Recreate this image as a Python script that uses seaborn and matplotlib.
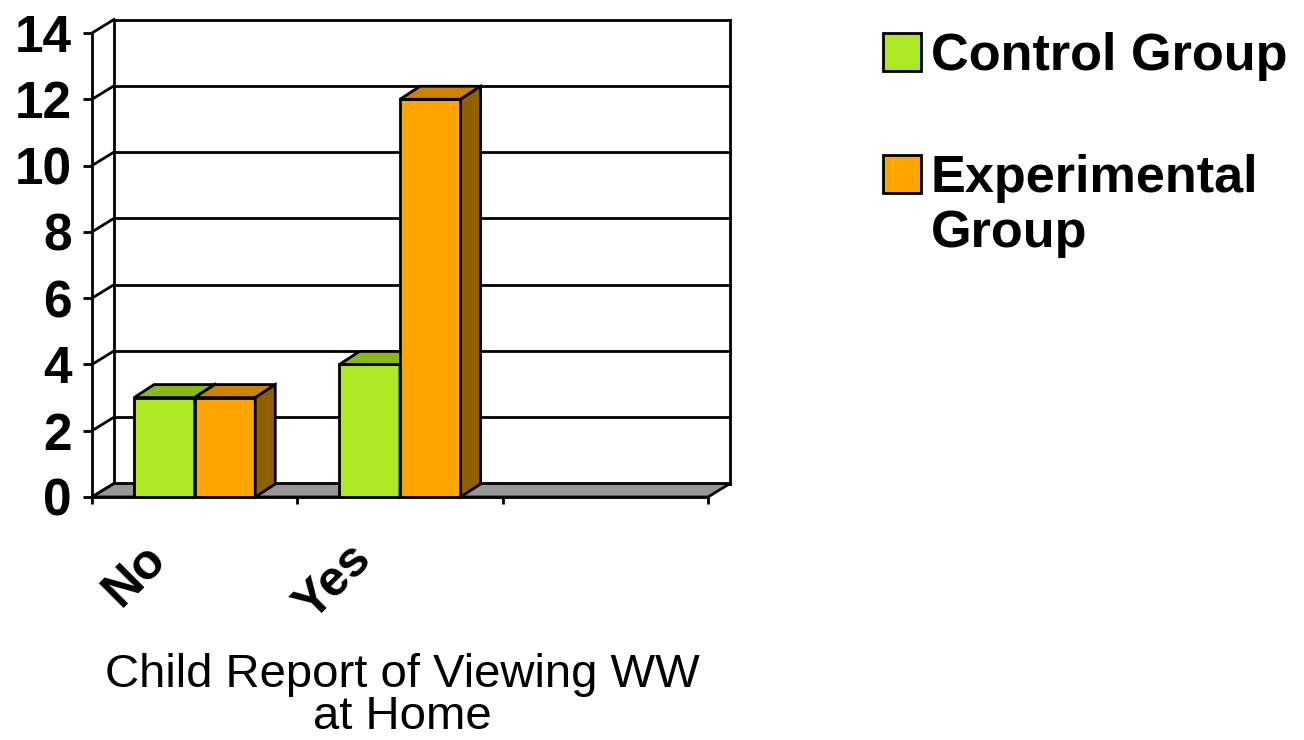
import numpy as np
import pandas as pd
import matplotlib
matplotlib.use("Agg")
import matplotlib.pyplot as plt
import matplotlib.colors as mcolors
from matplotlib.patches import Polygon, Rectangle
import seaborn as sns

# ---- data -------------------------------------------------------------
categories = ["No", "Yes"]
series_names = ["Control Group", "Experimental Group"]
control_values = [3, 4]
experimental_values = [3, 12]
y_tick_values = [0, 2, 4, 6, 8, 10, 12, 14]
axis_title_lines = ["Child Report of Viewing WW", "at Home"]
legend_lines = [["Control Group"], ["Experimental", "Group"]]

# ---- style ------------------------------------------------------------
FRONT = ["#AEE823", "#FFA500"]
TOP = ["#8AB81B", "#CC8400"]
SIDE = ["#5E7D12", "#8F5F00"]
FLOOR = "#969696"
LW = 2.0

W, H, DPI = 1304, 740, 100
AX_L, AX_R, AX_T, AX_B = 92, 708, 33, 497      # front plane of the chart box, pixels
N_SLOTS = 3                                     # category axis keeps one empty slot
WALL_DX, WALL_DY = 22, 13.5                     # depth of the chart box, pixels
BAR_DX, BAR_DY = 20, 13                         # depth of each bar, pixels


def fx(px):
    return px / W


def fy(py):
    return 1 - py / H


sns.set_theme(style="white")
plt.rcParams["font.family"] = ["Liberation Sans", "DejaVu Sans"]
plt.rcParams["text.color"] = "black"
plt.rcParams["xtick.color"] = "black"
plt.rcParams["ytick.color"] = "black"
plt.rcParams["axes.labelcolor"] = "black"

df = pd.DataFrame({
    "category": categories * 2,
    "series": [series_names[0]] * len(categories) + [series_names[1]] * len(categories),
    "value": control_values + experimental_values,
})

fig = plt.figure(figsize=(W / DPI, H / DPI), dpi=DPI)
fig.patch.set_facecolor("white")
ax = fig.add_axes([fx(AX_L), fy(AX_B), (AX_R - AX_L) / W, (AX_B - AX_T) / H])
ax.set_facecolor("none")

sns.barplot(data=df, x="category", y="value", hue="series",
            order=categories, hue_order=series_names,
            palette=dict(zip(series_names, FRONT)), saturation=1, width=0.59,
            edgecolor="black", linewidth=LW, legend=False, ax=ax)
bars = [p for p in ax.patches if p.get_width() > 0]

xmin, xmax = -0.5, N_SLOTS - 0.5
ymin, ymax = y_tick_values[0], y_tick_values[-1]
ax.set_xlim(xmin, xmax)
ax.set_ylim(ymin, ymax)

# pixel depths converted to data units
sx = (xmax - xmin) / (AX_R - AX_L)
sy = (ymax - ymin) / (AX_B - AX_T)
wdx, wdy = WALL_DX * sx, WALL_DY * sy
bdx, bdy = BAR_DX * sx, BAR_DY * sy

line_kw = dict(color="black", lw=LW, clip_on=False, solid_capstyle="projecting")

# back wall gridlines and the diagonals of the left side wall
for v in y_tick_values:
    ax.plot([xmin + wdx, xmax + wdx], [v + wdy, v + wdy], zorder=1, **line_kw)
    ax.plot([xmin, xmin + wdx], [v, v + wdy], zorder=1, **line_kw)
ax.plot([xmin + wdx] * 2, [ymin + wdy, ymax + wdy], zorder=1, **line_kw)
ax.plot([xmax + wdx] * 2, [ymin + wdy, ymax + wdy], zorder=1, **line_kw)

# floor
ax.add_patch(Polygon([(xmin, ymin), (xmax, ymin), (xmax + wdx, ymin + wdy), (xmin + wdx, ymin + wdy)],
                     closed=True, facecolor=FLOOR, edgecolor="black", lw=LW,
                     zorder=2, clip_on=False, joinstyle="miter"))

# 3-D faces for every bar, painted left to right
for i, bar in enumerate(sorted(bars, key=lambda p: p.get_x())):
    k = 0 if np.allclose(mcolors.to_rgb(bar.get_facecolor()), mcolors.to_rgb(FRONT[0])) else 1
    x0 = bar.get_x()
    x1 = x0 + bar.get_width()
    h = bar.get_height()
    base = 3 + 3 * i
    bar.set_zorder(base)
    bar.set_joinstyle("miter")
    ax.add_patch(Polygon([(x0, h), (x1, h), (x1 + bdx, h + bdy), (x0 + bdx, h + bdy)], closed=True,
                         facecolor=TOP[k], edgecolor="black", lw=LW, zorder=base + 1,
                         clip_on=False, joinstyle="miter"))
    ax.add_patch(Polygon([(x1, 0), (x1 + bdx, bdy), (x1 + bdx, h + bdy), (x1, h)], closed=True,
                         facecolor=SIDE[k], edgecolor="black", lw=LW, zorder=base + 2,
                         clip_on=False, joinstyle="miter"))

# spines and ticks
for side in ("top", "right"):
    ax.spines[side].set_visible(False)
for side in ("left", "bottom"):
    ax.spines[side].set_color("black")
    ax.spines[side].set_linewidth(LW)
    ax.spines[side].set_zorder(2.5)

ax.set_yticks(y_tick_values)
ax.set_yticklabels([str(v) for v in y_tick_values], fontsize=37, fontweight="bold", color="black")
ax.tick_params(axis="y", which="major", left=True, direction="out", length=6.5,
               width=LW, color="black", pad=8)

ax.set_xticks(range(len(categories)))
ax.set_xticklabels([])
ax.set_xticks(np.arange(xmin, xmax + 0.01, 1.0), minor=True)
ax.tick_params(axis="x", which="major", bottom=False, length=0)
ax.tick_params(axis="x", which="minor", bottom=True, direction="out", length=5,
               width=LW, color="black")
ax.set_xlabel("")
ax.set_ylabel("")

# rotated category labels
for j, cat in enumerate(categories):
    ax.annotate(cat, xy=(j, 0), xycoords="data", xytext=(-36 * 0.72, -55 * 0.72),
                textcoords="offset points", rotation=45, rotation_mode="anchor",
                ha="right", va="center", fontsize=36, fontweight="bold", color="black",
                annotation_clip=False)

# category axis title
title_x = fx((AX_L + AX_R) / 2 + 2)
for line, base_px in zip(axis_title_lines, [687, 729]):
    fig.text(title_x, fy(base_px), line, ha="center", va="baseline", fontsize=34, color="black")

# legend
legend_rows = [(33, [70]), (155, [192, 247])]
for k, (lines, (sq_top, baselines)) in enumerate(zip(legend_lines, legend_rows)):
    fig.add_artist(Rectangle((fx(883), fy(sq_top + 38)), 38 / W, 38 / H, transform=fig.transFigure,
                             facecolor=FRONT[k], edgecolor="black", lw=LW))
    for line, bl in zip(lines, baselines):
        fig.text(fx(931), fy(bl), line, ha="left", va="baseline", fontsize=37.6,
                 fontweight="bold", color="black")

fig.savefig("out.png", dpi=DPI, facecolor="white")
